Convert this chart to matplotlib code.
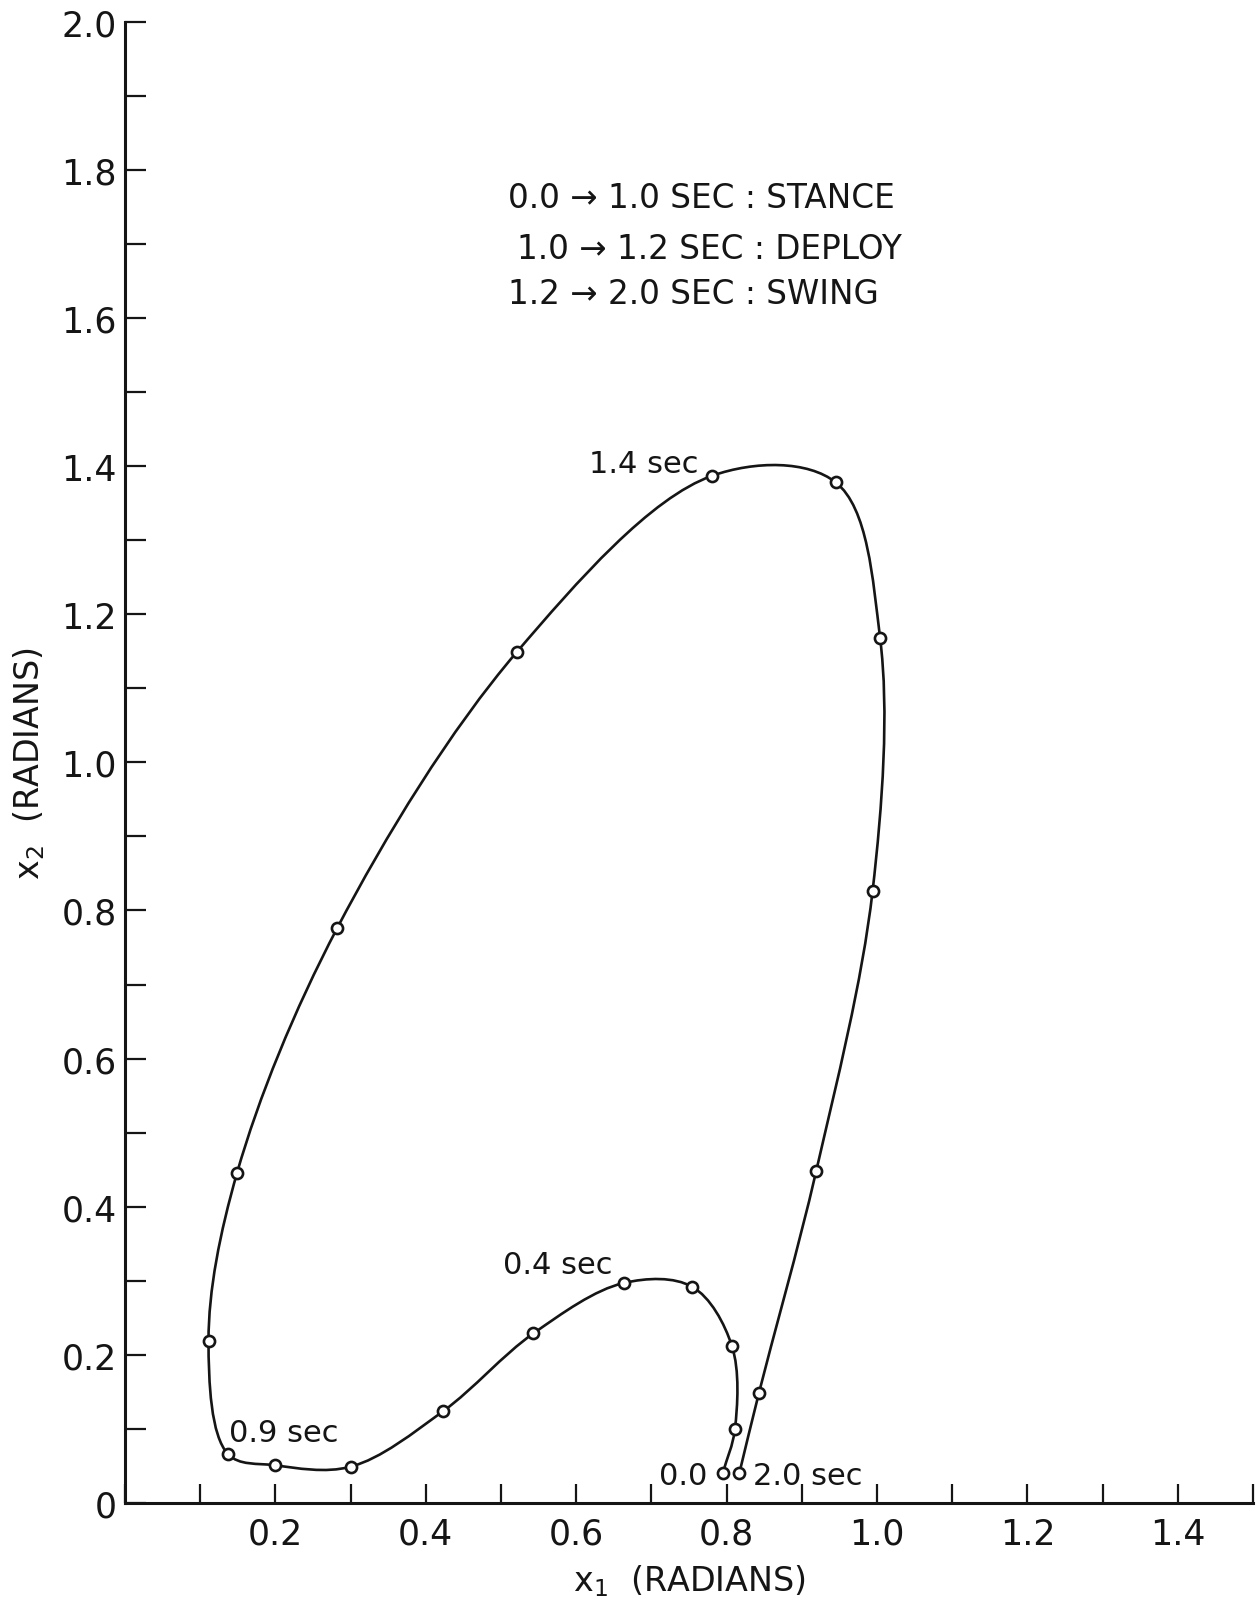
import numpy as np
import matplotlib
matplotlib.use("Agg")
import matplotlib.pyplot as plt
from matplotlib.path import Path
from matplotlib.patches import PathPatch
from matplotlib.ticker import MultipleLocator, FuncFormatter

# time stamps of the marked points (sec) and joint angles
t_sec = [0.0, 0.1, 0.2, 0.3, 0.4, 0.5, 0.6, 0.7, 0.8, 0.9, 1.0,
         1.1, 1.2, 1.3, 1.4, 1.5, 1.6, 1.7, 1.8, 1.9, 2.0]
x1 = [0.795, 0.811, 0.807, 0.754, 0.663, 0.543, 0.423, 0.300, 0.199, 0.137, 0.111,
      0.149, 0.282, 0.521, 0.781, 0.945, 1.004, 0.994, 0.919, 0.843, 0.817]
x2 = [0.041, 0.100, 0.212, 0.292, 0.297, 0.229, 0.124, 0.049, 0.051, 0.066, 0.219,
      0.446, 0.776, 1.149, 1.387, 1.378, 1.168, 0.826, 0.448, 0.149, 0.041]

labelled = {0.0: "0.0", 0.4: "0.4 sec", 0.9: "0.9 sec", 1.4: "1.4 sec", 2.0: "2.0 sec"}
phases = ["0.0 \u2192 1.0 SEC : STANCE",
          "1.0 \u2192 1.2 SEC : DEPLOY",
          "1.2 \u2192 2.0 SEC : SWING"]

INK = "#151515"
plt.rcParams['font.family'] = ['DejaVu Sans']


def smooth_path(xs, ys, alpha=0.5):
    # centripetal catmull-rom through the points, written as bezier segments
    P = np.column_stack([xs, ys])
    n = len(P)
    seg = np.linalg.norm(np.diff(P, axis=0), axis=1) ** alpha
    tan = np.zeros_like(P)
    for i in range(1, n - 1):
        d0, d1 = seg[i - 1], seg[i]
        tan[i] = (P[i] - P[i - 1]) / d0 - (P[i + 1] - P[i - 1]) / (d0 + d1) + (P[i + 1] - P[i]) / d1
    tan[0] = (P[1] - P[0]) / seg[0]
    tan[-1] = (P[-1] - P[-2]) / seg[-1]
    verts = [P[0]]
    codes = [Path.MOVETO]
    for i in range(n - 1):
        d = seg[i]
        verts += [P[i] + tan[i] * d / 3, P[i + 1] - tan[i + 1] * d / 3, P[i + 1]]
        codes += [Path.CURVE4] * 3
    return Path(verts, codes)


fig = plt.figure(figsize=(12.58, 16.06), dpi=100)
ax = fig.add_axes([0.0994, 0.0635, 0.8967, 0.9224])

ax.add_patch(PathPatch(smooth_path(x1, x2), fill=False, lw=1.9, ec=INK, zorder=2))
ax.plot(x1, x2, 'o', ls='none', ms=8, mfc='white', mec=INK, mew=1.9, zorder=3)

# time labels next to their points (offsets in points)
offsets = {0.0: (-11, -8.4, 'right'), 0.4: (-8, 7.5, 'right'), 0.9: (1, 9.5, 'left'),
           1.4: (-10, 3, 'right'), 2.0: (10, -8.4, 'left')}
for t, txt in labelled.items():
    i = t_sec.index(t)
    dx, dy, ha = offsets[t]
    ax.annotate(txt, xy=(x1[i], x2[i]), xytext=(dx, dy), textcoords='offset points',
                ha=ha, va='baseline', fontsize=22, color=INK)

ax.set_xlim(0, 1.5)
ax.set_ylim(0, 2.0)
for s in ['top', 'right']:
    ax.spines[s].set_visible(False)
for s in ['left', 'bottom']:
    ax.spines[s].set_linewidth(2.2)
    ax.spines[s].set_color(INK)

ax.xaxis.set_major_locator(MultipleLocator(0.2))
ax.xaxis.set_minor_locator(MultipleLocator(0.1))
ax.yaxis.set_major_locator(MultipleLocator(0.2))
ax.yaxis.set_minor_locator(MultipleLocator(0.1))
ax.xaxis.set_major_formatter(FuncFormatter(lambda v, p: "" if abs(v) < 1e-9 else "%.1f" % v))
ax.yaxis.set_major_formatter(FuncFormatter(lambda v, p: "0" if abs(v) < 1e-9 else "%.1f" % v))
ax.tick_params(axis='x', which='both', direction='in', length=14, width=1.6, color=INK)
ax.tick_params(axis='y', which='both', direction='in', length=15, width=1.6, color=INK)
ax.tick_params(axis='x', which='major', labelsize=25, pad=10, labelcolor=INK)
ax.tick_params(axis='y', which='major', labelsize=25, pad=6, labelcolor=INK)

ax.set_xlabel("x$_1$  (RADIANS)", fontsize=24, color=INK, labelpad=8)
ax.set_ylabel("x$_2$  (RADIANS)", fontsize=24, color=INK, labelpad=10)

# phase legend at the top
centers = [701, 709, 693]
baselines = [208, 259, 304]
for txt, cx, by in zip(phases, centers, baselines):
    fig.text(cx / 1258, 1 - by / 1606, txt, ha='center', va='baseline', fontsize=23.5, color=INK)

fig.savefig("out.png", dpi=100)
